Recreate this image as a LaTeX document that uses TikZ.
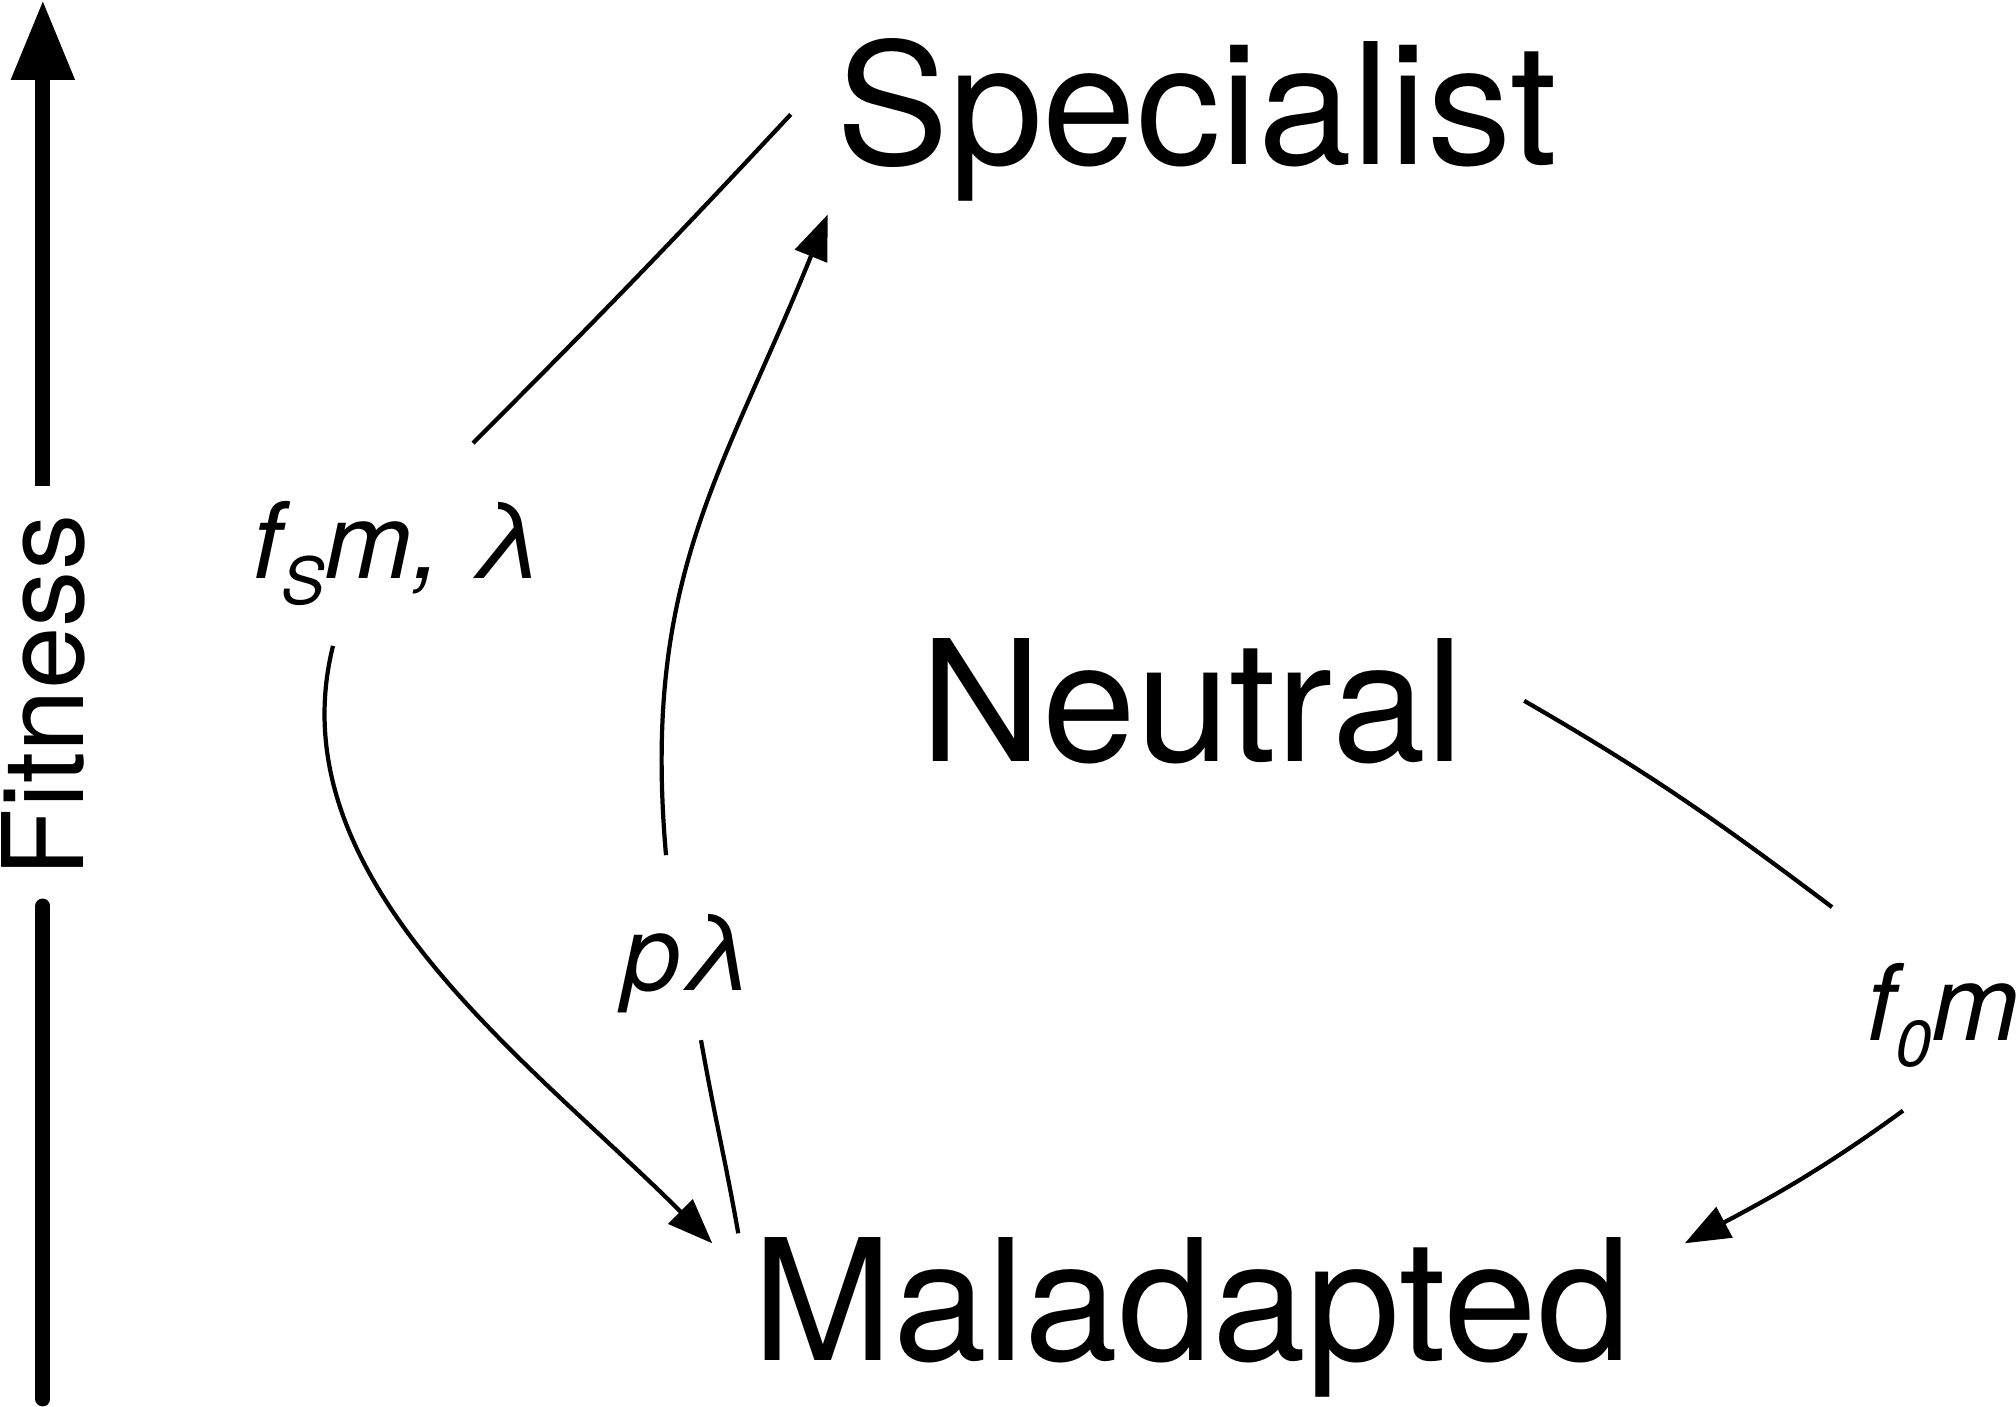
\documentclass[tikz,border=0pt]{standalone}
\usepackage{fontspec}
\setmainfont{TeX Gyre Heros}
\usetikzlibrary{arrows.meta}
\newcommand{\lowsub}[1]{\raisebox{-0.26cm}{\fontsize{18.5}{20}\selectfont #1}}
\begin{document}
\begin{tikzpicture}[
    state/.style={anchor=base, inner sep=0pt, font=\fontsize{48}{56}\selectfont},
    rate/.style={anchor=base, inner sep=0pt, font=\fontsize{30}{36}\selectfont\itshape},
    link/.style={line width=1.2pt},
    arrowed/.style={-{Triangle[length=0.45cm,width=0.34cm]}},
    fitline/.style={line width=4.2pt}
  ]
  \useasboundingbox (0,0) rectangle (20.16,-14.07);

  % states
  \node[state] (spec) at (11.97,-1.65) {Specialist};
  \node[state] (neut) at (11.92,-7.62) {Neutral};
  \node[state] (mal) at (11.92,-13.60) {Maladapted};

  % rates
  \node[rate] (rateS) at (3.98,-5.79) {f\lowsub{S}m, λ};
  \node[rate] (rateP) at (6.88,-9.90) {pλ};
  \node[rate] (rateO) at (19.43,-10.40) {f\lowsub{0}m};

  % fitness axis
  \node[anchor=base, rotate=90, inner xsep=0.28cm, inner ysep=0pt,
        font=\fontsize{32}{38}\selectfont] (fit) at (0.83,-6.96) {Fitness};
  \coordinate (fittop) at (0.41,0);
  \coordinate (fitbot) at (0.41,-13.99);
  \draw[fitline, -{Triangle[length=0.8cm,width=0.6cm]}] (fit.east) -- (fit.east |- fittop);
  \draw[fitline, line cap=round] (fit.west) -- (fit.west |- fitbot);

  % specialist -> maladapted
  \draw[link] ([shift={(-0.45,0.06)}]spec.west) to[out=227,in=45] ([shift={(0.75,0.58)}]rateS.north);
  \draw[link, arrowed] ([shift={(-0.65,-0.39)}]rateS.south) .. controls +(256:2.4) and +(135:2.6) .. ([shift={(-0.40,-0.07)}]mal.north west);

  % maladapted -> specialist
  \draw[link] ([shift={(-0.14,0.03)}]mal.north west) to[out=100,in=280] ([shift={(0.13,-0.27)}]rateP.south);
  \draw[link, arrowed] ([shift={(-0.22,0.58)}]rateP.north) .. controls +(95:2.8) and +(248:2.8) .. ([shift={(-0.08,-0.12)}]spec.south west);

  % neutral -> maladapted
  \draw[link] ([shift={(0.60,0.01)}]neut.east) to[out=-30,in=143] ([shift={(-1.11,0.55)}]rateO.north);
  \draw[link, arrowed] ([shift={(-0.40,-0.43)}]rateO.south) to[out=216,in=28] ([shift={(0.53,-0.07)}]mal.north east);
\end{tikzpicture}
\end{document}
